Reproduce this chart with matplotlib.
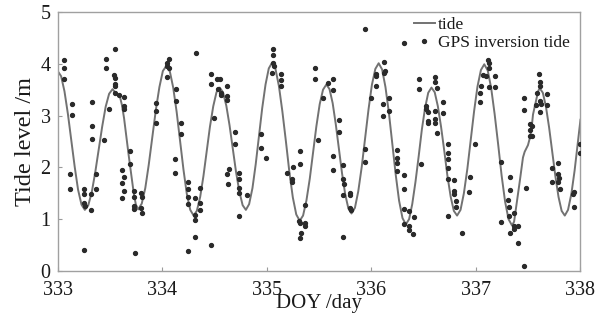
import matplotlib
matplotlib.use("Agg")
import matplotlib.pyplot as plt

plt.rcParams['font.family'] = ['Liberation Serif', 'DejaVu Serif']
plt.rcParams['mathtext.fontset'] = 'stix'

# ---- tide curve ----
tide_t = [
    333.000, 333.033, 333.065, 333.098, 333.130, 333.163, 333.195, 333.228,
    333.260, 333.293, 333.326, 333.359, 333.393, 333.426, 333.459, 333.492,
    333.525, 333.545, 333.567, 333.595, 333.615, 333.635, 333.660, 333.680, 333.705, 333.727, 333.748,
    333.770, 333.804, 333.838, 333.871, 333.905, 333.939, 333.973, 334.006,
    334.040, 334.073, 334.105, 334.138, 334.170, 334.203, 334.235, 334.268,
    334.300, 334.331, 334.363, 334.394, 334.425, 334.456, 334.488, 334.519,
    334.550, 334.581, 334.613, 334.644, 334.675, 334.706, 334.738, 334.769,
    334.800, 334.831, 334.863, 334.894, 334.925, 334.956, 334.988, 335.019,
    335.050, 335.083, 335.116, 335.149, 335.183, 335.216, 335.249, 335.282,
    335.315, 335.347, 335.379, 335.411, 335.443, 335.474, 335.506, 335.538,
    335.570, 335.600, 335.630, 335.660, 335.690, 335.720, 335.750, 335.780,
    335.810, 335.843, 335.875, 335.908, 335.940, 335.973, 336.005, 336.038,
    336.070, 336.103, 336.135, 336.168, 336.200, 336.233, 336.265, 336.298,
    336.330, 336.361, 336.391, 336.422, 336.453, 336.483, 336.514, 336.544,
    336.575, 336.606, 336.636, 336.667, 336.698, 336.728, 336.759, 336.789,
    336.820, 336.853, 336.885, 336.918, 336.950, 336.983, 337.015, 337.048,
    337.080, 337.113, 337.146, 337.179, 337.213, 337.246, 337.279, 337.312,
    337.345, 337.365, 337.386, 337.418, 337.450, 337.466, 337.498, 337.520, 337.532, 337.546, 337.568, 337.595,
    337.610, 337.640, 337.670, 337.700, 337.730, 337.760, 337.790, 337.820,
    337.850, 337.881, 337.913, 337.944, 337.975, 338.000,
]
tide_y = [
    3.86, 3.76, 3.47, 3.03, 2.52, 2.01, 1.57, 1.28,
    1.18, 1.27, 1.52, 1.90, 2.35, 2.79, 3.17, 3.42,
    3.51, 3.46, 3.41, 3.37, 3.20, 2.95, 2.55, 2.22, 1.85, 1.51, 1.28,
    1.19, 1.30, 1.60, 2.05, 2.58, 3.11, 3.55, 3.86,
    3.96, 3.85, 3.54, 3.07, 2.52, 1.96, 1.49, 1.18,
    1.07, 1.16, 1.43, 1.83, 2.31, 2.78, 3.18, 3.45,
    3.54, 3.45, 3.19, 2.81, 2.36, 1.91, 1.53, 1.27,
    1.18, 1.29, 1.60, 2.06, 2.60, 3.14, 3.60, 3.91,
    4.02, 3.90, 3.57, 3.08, 2.50, 1.91, 1.42, 1.09,
    0.97, 1.07, 1.36, 1.78, 2.29, 2.79, 3.22, 3.50,
    3.60, 3.51, 3.24, 2.83, 2.36, 1.88, 1.48, 1.21,
    1.11, 1.22, 1.54, 2.01, 2.56, 3.12, 3.59, 3.90,
    4.01, 3.89, 3.55, 3.05, 2.46, 1.86, 1.36, 1.02,
    0.90, 1.00, 1.29, 1.72, 2.22, 2.73, 3.15, 3.44,
    3.54, 3.45, 3.18, 2.78, 2.31, 1.83, 1.43, 1.16,
    1.07, 1.18, 1.50, 1.97, 2.53, 3.09, 3.56, 3.88,
    3.99, 3.87, 3.53, 3.03, 2.44, 1.84, 1.34, 1.00,
    0.88, 0.95, 1.25, 1.71, 2.19, 2.30, 2.43, 2.60, 2.75, 3.02, 3.22, 3.47,
    3.53, 3.44, 3.17, 2.77, 2.30, 1.83, 1.43, 1.16,
    1.07, 1.18, 1.49, 1.94, 2.49, 2.92,
]

# ---- GPS inversion tide points ----
gps_t = [
    333.056, 333.056, 333.056, 333.136, 333.136, 333.120, 333.120, 333.248, 333.248, 333.248,
    333.264, 333.248, 333.318, 333.318, 333.328, 333.328, 333.328, 333.366, 333.366, 333.440,
    333.462, 333.462, 333.488, 333.551, 333.535, 333.545, 333.545, 333.548, 333.551, 333.583,
    333.631, 333.631, 333.631, 333.615, 333.631, 333.615, 333.631, 333.615, 333.695, 333.695,
    333.733, 333.733, 333.733, 333.733, 333.743, 333.800, 333.806, 333.800, 333.806,
    334.063, 334.047, 334.047, 334.069, 334.047, 333.941, 333.941, 333.941, 334.133, 334.133,
    334.181, 334.181, 334.120, 334.120, 334.248, 334.248, 334.248, 334.248, 334.248, 334.318,
    334.318, 334.318, 334.318, 334.366, 334.366, 334.366, 334.325, 334.462, 334.462, 334.462,
    334.494, 334.526, 334.548, 334.536, 334.558, 334.558, 334.622, 334.622, 334.622, 334.692,
    334.692, 334.638, 334.622, 334.632, 334.734, 334.734, 334.734, 334.734, 334.734,
    334.814, 334.942, 334.942, 334.996, 335.060, 335.060, 335.060, 335.069, 335.047, 335.133,
    335.133, 335.133, 335.197, 335.245, 335.245, 335.251, 335.315, 335.315, 335.309, 335.315,
    335.325, 335.315, 335.367, 335.367, 335.367, 335.485, 335.462, 335.462, 335.539, 335.590,
    335.629, 335.629, 335.693, 335.693, 335.629, 335.629, 335.731, 335.731, 335.741, 335.731,
    335.795, 335.795, 335.795, 335.804, 335.731, 335.942, 335.942, 335.942, 335.996, 336.044,
    336.044, 336.044, 336.124, 336.134, 336.124, 336.172, 336.114, 336.114, 336.172, 336.242,
    336.242, 336.242, 336.242, 336.316, 336.316, 336.316, 336.316, 336.316, 336.358, 336.364,
    336.364, 336.402, 336.412, 336.453, 336.453,
    336.476, 336.524, 336.524, 336.540, 336.540, 336.540, 336.613, 336.613, 336.626, 336.613,
    336.613, 336.613, 336.626, 336.683, 336.683, 336.731, 336.731, 336.731, 336.731, 336.731,
    336.731, 336.795, 336.795, 336.795, 336.805, 336.805, 336.869, 336.939, 336.933, 336.996,
    337.041, 337.041, 337.051, 337.115, 337.124, 337.124, 337.099, 337.124, 337.179, 337.179,
    337.067, 337.236, 337.236, 337.322, 337.322, 337.316, 337.316,
    337.307, 337.361, 337.361, 337.361, 337.403, 337.403, 337.322, 337.457, 337.457, 337.457,
    337.482, 337.521, 337.521, 337.521, 337.540, 337.540, 337.604, 337.610, 337.610, 337.585,
    337.578, 337.610, 337.626, 337.610, 337.684, 337.684, 337.732, 337.732, 337.786, 337.786,
    337.796, 337.786, 337.802, 337.936, 337.930, 337.936, 337.994, 337.994,
]
gps_y = [
    4.07, 3.91, 3.71, 3.23, 3.01, 1.87, 1.59, 1.59, 1.48, 1.32,
    1.25, 0.40, 1.48, 1.18, 3.26, 2.80, 2.55, 1.88, 1.59, 2.53,
    4.09, 3.91, 3.13, 4.28, 3.78, 3.73, 3.60, 3.57, 3.44, 3.39,
    3.35, 3.19, 3.12, 1.95, 1.82, 1.69, 1.54, 1.40, 2.32, 2.06,
    1.54, 1.42, 1.25, 1.19, 0.35, 1.51, 1.42, 1.22, 1.11,
    4.10, 4.01, 3.96, 3.91, 3.75, 3.25, 3.09, 2.86, 3.51, 3.28,
    2.86, 2.64, 2.17, 1.90, 1.72, 1.59, 1.43, 1.29, 0.39, 1.40,
    1.09, 0.98, 0.66, 1.61, 1.32, 1.18, 4.21, 3.80, 3.60, 0.51,
    2.96, 3.71, 3.71, 3.51, 3.44, 3.39, 3.57, 3.37, 3.31, 2.68,
    2.45, 1.96, 1.87, 1.67, 1.89, 1.77, 1.61, 1.51, 1.07,
    1.46, 2.64, 2.38, 2.18, 4.29, 4.16, 4.01, 3.96, 3.82, 3.80,
    3.69, 3.58, 1.90, 1.77, 1.71, 2.00, 2.32, 2.06, 0.97, 0.92,
    0.73, 0.64, 1.27, 0.93, 0.87, 2.53, 3.91, 3.71, 3.33, 3.62,
    3.71, 3.49, 2.92, 2.68, 2.22, 1.95, 2.05, 1.77, 1.67, 1.47,
    1.51, 1.46, 1.22, 1.18, 0.66, 2.36, 2.11, 4.68, 3.33, 3.80,
    3.76, 3.57, 4.03, 3.86, 3.83, 3.33, 3.22, 2.99, 3.09, 2.34,
    2.19, 2.08, 1.93, 4.41, 1.85, 1.58, 1.20, 0.90, 1.16, 0.87,
    0.80, 0.71, 1.04, 3.71, 3.51,
    2.06, 3.19, 3.12, 3.06, 2.90, 2.86, 3.75, 3.64, 3.54, 3.09,
    2.94, 2.86, 2.67, 3.26, 3.04, 2.45, 2.28, 2.17, 1.99, 1.77,
    1.07, 1.76, 1.54, 1.48, 1.24, 1.35, 0.74, 1.81, 1.53, 2.45,
    3.26, 3.43, 3.57, 4.07, 4.01, 3.91, 3.76, 3.56, 3.76, 3.56,
    3.78, 2.11, 0.95, 1.82, 1.56, 1.24, 1.06,
    1.37, 1.11, 0.87, 0.82, 0.87, 0.55, 0.74, 0.10, 3.33, 3.10,
    1.61, 2.83, 2.72, 2.61, 2.61, 2.80, 3.80, 3.64, 3.57, 3.43,
    3.20, 3.28, 3.22, 3.06, 3.41, 3.20, 1.99, 1.72, 2.09, 1.87,
    1.80, 1.71, 1.59, 1.53, 1.48, 1.24, 2.45, 2.28,
]

x_ticks = [333, 334, 335, 336, 337, 338]
y_ticks = [0, 1, 2, 3, 4, 5]

fig = plt.figure(figsize=(6.07, 3.23), dpi=100)
ax = fig.add_axes([0.095, 0.161, 0.8613, 0.802])

ax.plot(tide_t, tide_y, color='#727272', lw=1.4, label='tide', zorder=2)
ax.plot(gps_t, gps_y, linestyle='none', marker='o', ms=2.8, color='#2a2a2a',
        mec='#2a2a2a', label='GPS inversion tide', zorder=3)

ax.set_xlim(333, 338)
ax.set_ylim(0, 5)
ax.set_xticks(x_ticks)
ax.set_yticks(y_ticks)
ax.tick_params(direction='in', length=3, width=0.8, color='#9a9a9a',
               labelsize=14.5, labelcolor='#1a1a1a')
ax.tick_params(axis='x', pad=7)
ax.tick_params(axis='y', pad=5)
for s in ax.spines.values():
    s.set_color('#a0a0a0')
    s.set_linewidth(1.0)

ax.set_xlabel('DOY /day', fontsize=15, color='#1a1a1a', labelpad=-4)
ax.set_ylabel('Tide level /m', fontsize=17.5, color='#1a1a1a', labelpad=3)

leg = ax.legend(loc='upper right', bbox_to_anchor=(0.99, 1.0), frameon=False,
                fontsize=12.5, handlelength=1.2, handletextpad=0.2,
                labelspacing=0.1, borderaxespad=0.1, borderpad=0.2, numpoints=1)
for t in leg.get_texts():
    t.set_color('#1a1a1a')

fig.savefig('out.png', dpi=100)
